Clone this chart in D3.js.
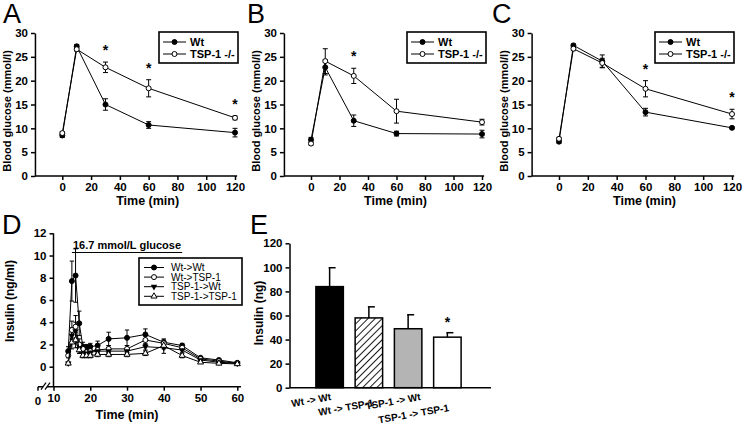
<!DOCTYPE html>
<html><head><meta charset="utf-8">
<script src="https://cdn.jsdelivr.net/npm/d3@7"></script>
<style>
body{margin:0;background:#fff;}
text{font-family:"Liberation Sans",Arial,sans-serif;}
</style></head>
<body>
<script>
// ---------- DATA ----------
const glucoseTimes = [0, 10, 30, 60, 120];
const glucoseTicksX = [0, 20, 40, 60, 80, 100, 120];
const glucoseTicksY = [0, 5, 10, 15, 20, 25, 30];
const seriesNames = ["Wt", "TSP-1 -/-"];

const aWt = [8.5, 27.2, 15.0, 10.7, 9.1];
const aWtErr = [0.4, 0.4, 1.2, 0.7, 0.9];
const aKo = [9.0, 26.6, 22.8, 18.4, 12.2];
const aKoErr = [0.3, 0.4, 1.1, 1.8, 0.4];
const aStars = [30, 60, 120];

const bWt = [7.6, 22.8, 11.6, 8.9, 8.8];
const bWtErr = [0.5, 1.6, 1.2, 0.5, 0.8];
const bKo = [6.8, 24.1, 21.0, 13.6, 11.3];
const bKoErr = [0.3, 2.6, 1.6, 2.5, 0.6];
const bStars = [30];

const cWt = [7.2, 27.4, 24.1, 13.4, 10.1];
const cWtErr = [0.3, 0.3, 1.3, 0.8, 0.2];
const cKo = [7.8, 26.7, 23.7, 18.3, 13.0];
const cKoErr = [0.3, 0.4, 1.0, 1.7, 1.0];
const cStars = [60, 120];

const dTimes = [14, 15, 16, 17, 18, 19, 20, 22, 25, 30, 35, 40, 45, 50, 55, 60];
const dTicksX = [10, 20, 30, 40, 50, 60];
const dTicksY = [0, 2, 4, 6, 8, 10, 12];
const dNames = ["Wt->Wt", "Wt->TSP-1", "TSP-1->Wt", "TSP-1->TSP-1"];
const dWtWt = [1.4, 7.7, 8.2, 3.9, 1.8, 1.7, 1.8, 1.9, 2.5, 2.6, 2.9, 2.2, 1.9, 0.8, 0.6, 0.35];
const dWtWtErr = [0.4, 1.8, 2.4, 1.1, 0.4, 0.3, 0.3, 0.4, 0.6, 0.7, 0.5, 0.3, 0.2, 0.1, 0.1, 0.1];
const dWtTsp = [1.0, 3.3, 3.6, 2.0, 1.6, 1.3, 1.4, 1.5, 1.6, 1.6, 2.4, 2.1, 1.7, 0.7, 0.5, 0.3];
const dWtTspErr = [0.2, 0.8, 1.0, 0.5, 0.3, 0.3, 0.3, 0.3, 0.3, 0.3, 0.4, 0.3, 0.2, 0.1, 0.1, 0.1];
const dTspWt = [0.3, 2.8, 3.2, 1.6, 1.2, 1.2, 1.3, 1.4, 1.4, 1.4, 1.8, 1.7, 1.5, 0.6, 0.4, 0.3];
const dTspWtErr = [0.1, 0.7, 0.8, 0.4, 0.3, 0.2, 0.2, 0.2, 0.2, 0.2, 0.3, 0.5, 0.2, 0.1, 0.1, 0.1];
const dTspTsp = [0.3, 2.2, 2.4, 1.5, 1.0, 1.0, 1.0, 1.1, 1.1, 1.1, 1.2, 1.9, 1.0, 0.4, 0.3, 0.25];
const dTspTspErr = [0.1, 0.6, 0.7, 0.3, 0.2, 0.2, 0.2, 0.2, 0.2, 0.2, 0.2, 0.3, 0.2, 0.1, 0.1, 0.1];
const dGlucoseLabel = "16.7 mmol/L glucose";
const dGlucoseSpan = [15, 45];

const eCats = ["Wt -> Wt", "Wt -> TSP-1", "TSP-1 -> Wt", "TSP-1 -> TSP-1"];
const eVals = [84, 58, 49, 42];
const eErr = [15.7, 9.2, 11.6, 3.7];
const eTicksY = [0, 20, 40, 60, 80, 100, 120];
const eStars = ["TSP-1 -> TSP-1"];

// ---------- DRAW ----------
const svg = d3.select("body").append("svg").attr("width", 744).attr("height", 425);
const FONT = '"Liberation Sans",Arial,sans-serif';

function letter(txt, x, y) {
  svg.append("text").attr("x", x).attr("y", y).attr("font-size", 27).text(txt);
}
function styleAxis(g) {
  g.selectAll("path,line").attr("stroke", "#000").attr("stroke-width", 1.5);
  g.selectAll("text").attr("font-size", 11.5).attr("font-weight", "bold").attr("font-family", FONT).attr("fill", "#000");
}
function marker(g, kind, cx, cy) {
  if (kind === "fc") g.append("circle").attr("cx", cx).attr("cy", cy).attr("r", 2.5).attr("fill", "#000").attr("stroke", "#000");
  else if (kind === "oc") g.append("circle").attr("cx", cx).attr("cy", cy).attr("r", 2.5).attr("fill", "#fff").attr("stroke", "#000").attr("stroke-width", 1);
  else if (kind === "dt") g.append("path").attr("d", d3.symbol(d3.symbolTriangle, 18)()).attr("transform", `translate(${cx},${cy}) rotate(180)`).attr("fill", "#000");
  else if (kind === "ut") g.append("path").attr("d", d3.symbol(d3.symbolTriangle, 16)()).attr("transform", `translate(${cx},${cy})`).attr("fill", "#fff").attr("stroke", "#000").attr("stroke-width", 1);
}
function errSeries(g, x, y, xs, vals, errs, cap) {
  xs.forEach((t, i) => {
    const x0 = x(t), y1 = y(vals[i] - errs[i]), y2 = y(vals[i] + errs[i]);
    g.append("line").attr("x1", x0).attr("x2", x0).attr("y1", y1).attr("y2", y2).attr("stroke", "#000").attr("stroke-width", 1);
    [y1, y2].forEach(yy => g.append("line").attr("x1", x0 - cap).attr("x2", x0 + cap).attr("y1", yy).attr("y2", yy).attr("stroke", "#000").attr("stroke-width", 1));
  });
}
function lineSeries(g, x, y, xs, vals, kind) {
  const ln = d3.line().x((d, i) => x(xs[i])).y(d => y(d));
  g.append("path").attr("d", ln(vals)).attr("fill", "none").attr("stroke", "#000").attr("stroke-width", 1);
  xs.forEach((t, i) => marker(g, kind, x(t), y(vals[i])));
}

function glucosePanel(cfg) {
  const g = svg.append("g");
  const x = d3.scaleLinear().domain([0, 120]).range([cfg.x0, cfg.x120]);
  const y = d3.scaleLinear().domain([0, 30]).range([176, 33]);
  const xl = x(-19), xr = x(121.5);
  const ya = g.append("g").attr("transform", `translate(${xl},0)`)
    .call(d3.axisLeft(y).tickValues(glucoseTicksY).tickSize(4).tickSizeOuter(0).tickPadding(3));
  styleAxis(ya);
  const xa = g.append("g").attr("transform", `translate(0,${y(0)})`)
    .call(d3.axisBottom(x).tickValues(glucoseTicksX).tickSize(4).tickPadding(3));
  xa.select(".domain").remove();
  styleAxis(xa);
  g.append("line").attr("x1", xl).attr("x2", xr).attr("y1", y(0)).attr("y2", y(0)).attr("stroke", "#000").attr("stroke-width", 1.5);
  g.append("text").attr("x", (cfg.x0 + cfg.x120) / 2 - 1).attr("y", 205).attr("text-anchor", "middle")
    .attr("font-size", 12.5).attr("font-weight", "bold").text("Time (min)");
  g.append("text").attr("transform", `translate(${xl - 24},111) rotate(-90)`).attr("text-anchor", "middle")
    .attr("font-size", 11).attr("font-weight", "bold").text("Blood glucose (mmol/l)");
  errSeries(g, x, y, glucoseTimes, cfg.wt, cfg.wtErr, 2.5);
  errSeries(g, x, y, glucoseTimes, cfg.ko, cfg.koErr, 2.5);
  lineSeries(g, x, y, glucoseTimes, cfg.wt, "fc");
  lineSeries(g, x, y, glucoseTimes, cfg.ko, "oc");
  cfg.stars.forEach(t => {
    const i = glucoseTimes.indexOf(t);
    const top = Math.max(cfg.wt[i] + cfg.wtErr[i], cfg.ko[i] + cfg.koErr[i]);
    g.append("text").attr("x", x(t)).attr("y", y(top) - 7).attr("text-anchor", "middle")
      .attr("font-size", 14).attr("font-weight", "bold").text("*");
  });
  const lx = cfg.lx, ly = 32;
  g.append("rect").attr("x", lx).attr("y", ly).attr("width", 79).attr("height", 31)
    .attr("fill", "#fff").attr("stroke", "#000").attr("stroke-width", 1.6);
  seriesNames.forEach((n, i) => {
    const yy = ly + 10 + i * 12;
    g.append("line").attr("x1", lx + 4).attr("x2", lx + 27).attr("y1", yy).attr("y2", yy).attr("stroke", "#000");
    marker(g, i === 0 ? "fc" : "oc", lx + 15.5, yy);
    g.append("text").attr("x", lx + 31).attr("y", yy + 4).attr("font-size", 11).attr("font-weight", "bold").text(n);
  });
  letter(cfg.letter, cfg.letterX, 23);
}

glucosePanel({x0: 62.3, x120: 235, wt: aWt, wtErr: aWtErr, ko: aKo, koErr: aKoErr, stars: aStars, lx: 159, letter: "A", letterX: 3});
glucosePanel({x0: 311, x120: 482, wt: bWt, wtErr: bWtErr, ko: bKo, koErr: bKoErr, stars: bStars, lx: 407, letter: "B", letterX: 247});
glucosePanel({x0: 559, x120: 732, wt: cWt, wtErr: cWtErr, ko: cKo, koErr: cKoErr, stars: cStars, lx: 655, letter: "C", letterX: 492});

// ---------- Panel D ----------
(function () {
  const g = svg.append("g");
  const x = d3.scaleLinear().domain([10, 60]).range([53.5, 237.3]);
  const y = d3.scaleLinear().domain([-1.8, 12]).range([386.7, 233.3]);
  const ya = g.append("g").attr("transform", `translate(${x(10)},0)`)
    .call(d3.axisLeft(y).tickValues(dTicksY).tickSize(4).tickSizeOuter(0).tickPadding(3));
  ya.select(".domain").remove();
  styleAxis(ya);
  g.append("line").attr("x1", x(10)).attr("x2", x(10)).attr("y1", y(12)).attr("y2", y(-1.8)).attr("stroke", "#000").attr("stroke-width", 1.5);
  const xa = g.append("g").attr("transform", `translate(0,${y(-1.8)})`)
    .call(d3.axisBottom(x).tickValues(dTicksX).tickSize(4).tickPadding(3));
  xa.select(".domain").remove();
  styleAxis(xa);
  const x0lab = 38;
  g.append("line").attr("x1", x0lab).attr("x2", x(61)).attr("y1", y(-1.8)).attr("y2", y(-1.8)).attr("stroke", "#000").attr("stroke-width", 1.5);
  g.append("line").attr("x1", x0lab).attr("x2", x0lab).attr("y1", y(-1.8)).attr("y2", y(-1.8) + 4).attr("stroke", "#000").attr("stroke-width", 1.5);
  g.append("rect").attr("x", 43).attr("y", y(-1.8) - 4).attr("width", 4).attr("height", 8).attr("fill", "#fff");
  [41, 45].forEach(bx => g.append("line").attr("x1", bx).attr("x2", bx + 5).attr("y1", y(-1.8) + 3).attr("y2", y(-1.8) - 4).attr("stroke", "#000").attr("stroke-width", 1.2));
  g.append("text").attr("x", x0lab).attr("y", y(-1.8) + 7 + 11).attr("text-anchor", "middle")
    .attr("font-size", 11.5).attr("font-weight", "bold").text("0");
  g.append("text").attr("x", 127).attr("y", 419).attr("text-anchor", "middle")
    .attr("font-size", 12.5).attr("font-weight", "bold").text("Time (min)");
  g.append("text").attr("transform", `translate(14,301) rotate(-90)`).attr("text-anchor", "middle")
    .attr("font-size", 12).attr("font-weight", "bold").text("Insulin (ng/ml)");
  g.append("line").attr("x1", x(dGlucoseSpan[0])).attr("x2", x(dGlucoseSpan[1])).attr("y1", 252.5).attr("y2", 252.5).attr("stroke", "#000").attr("stroke-width", 1.2);
  g.append("text").attr("x", (x(dGlucoseSpan[0]) + x(dGlucoseSpan[1])) / 2).attr("y", 249).attr("text-anchor", "middle")
    .attr("font-size", 11).attr("font-weight", "bold").text(dGlucoseLabel);
  const series = [[dWtWt, dWtWtErr, "fc"], [dWtTsp, dWtTspErr, "oc"], [dTspWt, dTspWtErr, "dt"], [dTspTsp, dTspTspErr, "ut"]];
  series.forEach(s => errSeries(g, x, y, dTimes, s[0], s[1], 2.2));
  series.forEach(s => lineSeries(g, x, y, dTimes, s[0], s[2]));
  const lx = 139, ly = 258;
  g.append("rect").attr("x", lx).attr("y", ly).attr("width", 103).attr("height", 47)
    .attr("fill", "#fff").attr("stroke", "#000").attr("stroke-width", 1.6);
  dNames.forEach((n, i) => {
    const yy = ly + 9.5 + i * 9.6;
    g.append("line").attr("x1", lx + 5).attr("x2", lx + 25).attr("y1", yy).attr("y2", yy).attr("stroke", "#000");
    marker(g, series[i][2], lx + 15, yy);
    g.append("text").attr("x", lx + 32).attr("y", yy + 3.5).attr("font-size", 10).text(n);
  });
  letter("D", 2, 234);
})();

// ---------- Panel E ----------
(function () {
  const g = svg.append("g");
  const defs = svg.append("defs");
  const pat = defs.append("pattern").attr("id", "hatch").attr("patternUnits", "userSpaceOnUse")
    .attr("width", 5).attr("height", 5).attr("patternTransform", "rotate(45)");
  pat.append("rect").attr("width", 5).attr("height", 5).attr("fill", "#fff");
  pat.append("line").attr("x1", 0).attr("x2", 0).attr("y1", 0).attr("y2", 5).attr("stroke", "#000").attr("stroke-width", 1.8);
  const x = d3.scaleBand().domain(eCats).range([310, 467]).paddingInner(0.3).paddingOuter(0.15);
  const y = d3.scaleLinear().domain([0, 120]).range([387.7, 243.3]);
  const fills = ["#000", "url(#hatch)", "#b4b4b4", "#fff"];
  const ya = g.append("g").attr("transform", `translate(289.5,0)`)
    .call(d3.axisLeft(y).tickValues(eTicksY).tickSize(4).tickSizeOuter(0).tickPadding(3));
  styleAxis(ya);
  g.append("line").attr("x1", 289.5).attr("x2", 491).attr("y1", y(0)).attr("y2", y(0)).attr("stroke", "#000").attr("stroke-width", 1.5);
  eCats.forEach((c, i) => {
    const cx = x(c) + x.bandwidth() / 2;
    g.append("line").attr("x1", cx).attr("x2", cx).attr("y1", y(eVals[i])).attr("y2", y(eVals[i] + eErr[i])).attr("stroke", "#000").attr("stroke-width", 1.5);
    g.append("line").attr("x1", cx - 1).attr("x2", cx + 6).attr("y1", y(eVals[i] + eErr[i])).attr("y2", y(eVals[i] + eErr[i])).attr("stroke", "#000").attr("stroke-width", 1.5);
    g.append("rect").attr("x", x(c)).attr("y", y(eVals[i])).attr("width", x.bandwidth()).attr("height", y(0) - y(eVals[i]))
      .attr("fill", fills[i]).attr("stroke", "#000").attr("stroke-width", 1.5);
    if (eStars.includes(c)) g.append("text").attr("x", cx).attr("y", y(eVals[i] + eErr[i]) - 6).attr("text-anchor", "middle")
      .attr("font-size", 14).attr("font-weight", "bold").text("*");
  });
  const labOff = [[2, 400], [5, 406], [13, 400], [2, 411]];
  eCats.forEach((c, i) => {
    const cx = x(c) + x.bandwidth() / 2 + labOff[i][0];
    g.append("text").attr("transform", `translate(${cx},${labOff[i][1]}) rotate(-10)`).attr("text-anchor", "end")
      .attr("font-size", 10).attr("font-weight", "bold").text(c);
  });
  g.append("text").attr("transform", `translate(263,313) rotate(-90)`).attr("text-anchor", "middle")
    .attr("font-size", 12).attr("font-weight", "bold").text("Insulin  (ng)");
  letter("E", 250, 234);
})();
</script>
</body></html>
